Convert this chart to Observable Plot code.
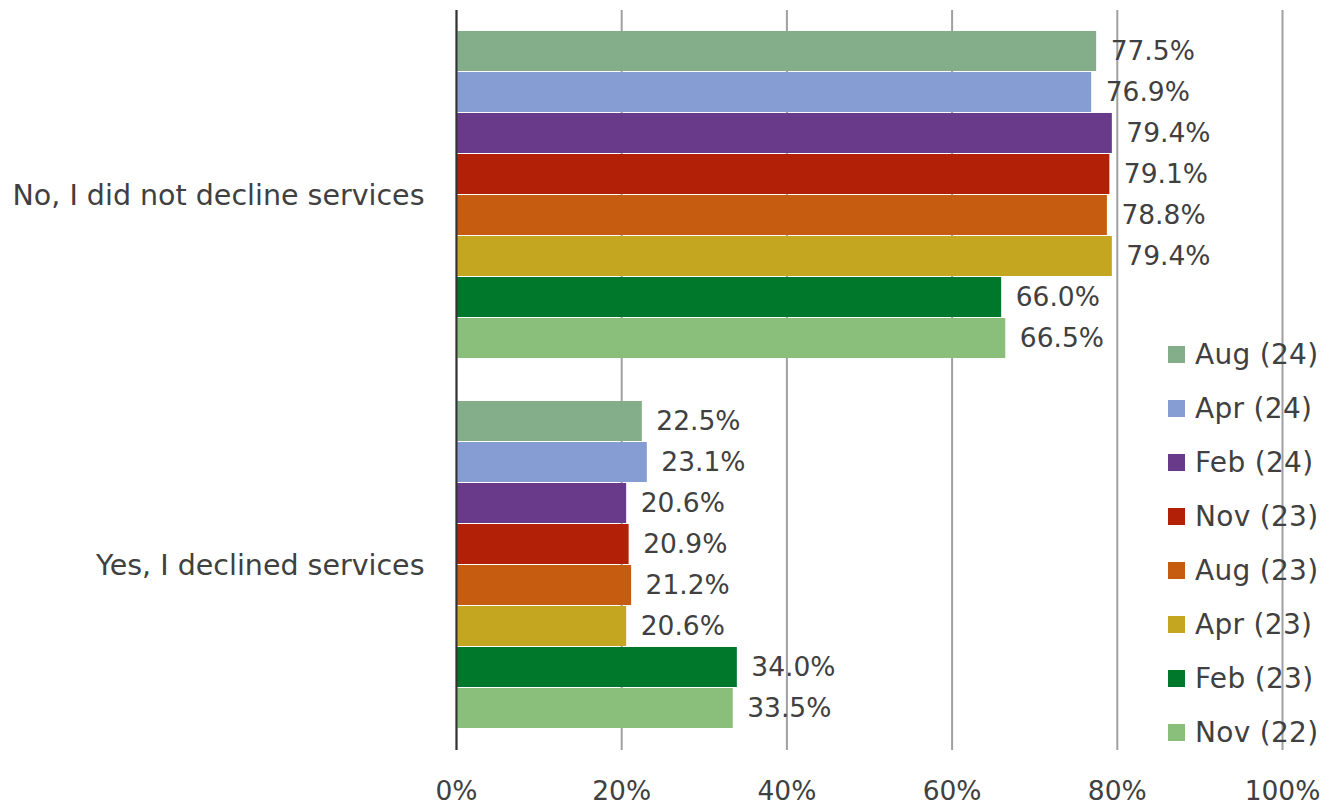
<!DOCTYPE html>
<html>
<head>
<meta charset="utf-8">
<script src="https://cdn.jsdelivr.net/npm/d3@7"></script>
<script src="https://cdn.jsdelivr.net/npm/@observablehq/plot@0.6"></script>
<style>
  html, body { margin: 0; padding: 0; background: #fff; }
  #wrap { position: relative; width: 1335px; height: 810px; }
  #legend { position: absolute; left: 1168px; top: 328px; font-family: "DejaVu Sans", Verdana, sans-serif; font-size: 28px; letter-spacing: 0.3px; color: #404040; }
  .item { display: flex; align-items: center; height: 53.9px; white-space: nowrap; }
  .sw { width: 17px; height: 17px; margin-right: 10px; }
</style>
</head>
<body>
<div id="wrap"><div id="chart"></div><div id="legend"></div></div>
<script>
const categories = ["No, I did not decline services", "Yes, I declined services"];
const series = ["Aug (24)", "Apr (24)", "Feb (24)", "Nov (23)", "Aug (23)", "Apr (23)", "Feb (23)", "Nov (22)"];
const colors = ["#84ae8a", "#859dd3", "#6a3a8a", "#b22008", "#c55c10", "#c4a621", "#00782b", "#8abf7b"];
const noValues = [77.5, 76.9, 79.4, 79.1, 78.8, 79.4, 66.0, 66.5];
const yesValues = [22.5, 23.1, 20.6, 20.9, 21.2, 20.6, 34.0, 33.5];
const xTicks = [0, 20, 40, 60, 80, 100];

const data = [];
series.forEach((s, i) => {
  data.push({category: categories[0], series: s, value: noValues[i]});
  data.push({category: categories[1], series: s, value: yesValues[i]});
});

const font = "DejaVu Sans, Verdana, sans-serif";
const plot = Plot.plot({
  width: 1335,
  height: 810,
  marginLeft: 456,
  marginRight: 53,
  marginTop: 10,
  marginBottom: 60,
  style: {fontFamily: font, fontSize: "26px", color: "#404040", background: "white"},
  x: {domain: [0, 100], axis: null},
  y: {domain: series, axis: null, paddingInner: 0.02, paddingOuter: 0.51},
  fy: {domain: categories, padding: 0, axis: null},
  color: {domain: series, range: colors},
  marks: [
    Plot.gridX(xTicks, {stroke: "#a0a0a0", strokeOpacity: 1, strokeWidth: 2}),
    Plot.barX(data, {x: "value", y: "series", fy: "category", fill: "series"}),
    Plot.ruleX([0], {stroke: "#333", strokeWidth: 2}),
    Plot.text(data, {x: "value", y: "series", fy: "category", text: d => d.value.toFixed(1) + "%", textAnchor: "start", dx: 14, fill: "#404040", fontSize: 26.5}),
    Plot.axisFy({anchor: "left", tickSize: 0, tickPadding: 32, fontSize: 28.5, textAnchor: "end", label: null}),
    Plot.axisX(xTicks, {anchor: "bottom", tickSize: 0, tickPadding: 31, fontSize: 26.5, tickFormat: d => d + "%", label: null})
  ]
});
document.getElementById("chart").appendChild(plot);

const legend = document.getElementById("legend");
series.forEach((s, i) => {
  const item = document.createElement("div");
  item.className = "item";
  const sw = document.createElement("div");
  sw.className = "sw";
  sw.style.background = colors[i];
  const t = document.createElement("span");
  t.textContent = s;
  item.appendChild(sw);
  item.appendChild(t);
  legend.appendChild(item);
});
</script>
</body>
</html>
